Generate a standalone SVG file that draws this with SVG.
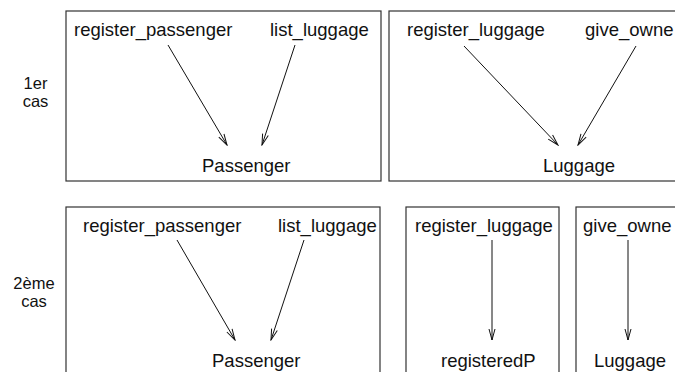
<svg xmlns="http://www.w3.org/2000/svg" width="675" height="372" viewBox="0 0 675 372">
<defs>
<style>
.box{fill:none;stroke:#333;stroke-width:1.2}
.t{font-family:"Liberation Sans",Arial,sans-serif;font-size:18.5px;fill:#111}
.s{font-family:"Liberation Sans",Arial,sans-serif;font-size:16.5px;fill:#111;text-anchor:middle}
.c{stroke:#111;stroke-width:1;fill:none;marker-end:url(#ah)}
</style>
<marker id="ah" markerUnits="userSpaceOnUse" viewBox="-12 -4 13 8" refX="0" refY="0" markerWidth="13" markerHeight="8" orient="auto">
<path d="M-11,-3 L0,0 L-11,3" fill="none" stroke="#111" stroke-width="1"/>
</marker>
</defs>
<rect width="675" height="372" fill="#fff"/>
<g id="label1">
<text class="s" x="35.5" y="89">1er</text>
<text class="s" x="35.5" y="107">cas</text>
</g>
<g id="label2">
<text class="s" x="34" y="289">2ème</text>
<text class="s" x="34" y="307">cas</text>
</g>
<g id="box1">
<rect class="box" x="66" y="11" width="315" height="170"/>
<text class="t" x="74" y="36">register_passenger</text>
<text class="t" x="270" y="36">list_luggage</text>
<text class="t" x="202" y="172">Passenger</text>
</g>
<g id="box2">
<rect class="box" x="389" y="11" width="320" height="170"/>
<text class="t" x="407" y="36">register_luggage</text>
<text class="t" x="585" y="36">give_owne</text>
<text class="t" x="543" y="172">Luggage</text>
</g>
<g id="box3">
<rect class="box" x="66" y="207" width="314" height="190"/>
<text class="t" x="83" y="232">register_passenger</text>
<text class="t" x="278" y="232">list_luggage</text>
<text class="t" x="212" y="367">Passenger</text>
</g>
<g id="box4">
<rect class="box" x="406" y="207" width="153" height="190"/>
<text class="t" x="415" y="232">register_luggage</text>
<text class="t" x="441" y="367">registeredP</text>
</g>
<g id="box5">
<rect class="box" x="576" y="207" width="130" height="190"/>
<text class="t" x="583" y="232">give_owne</text>
<text class="t" x="594" y="367">Luggage</text>
</g>
<g id="connectors">
<line class="c" x1="168" y1="45" x2="227" y2="145"/>
<line class="c" x1="295" y1="45" x2="262" y2="145"/>
<line class="c" x1="464" y1="46" x2="558" y2="145"/>
<line class="c" x1="636" y1="46" x2="578" y2="145"/>
<line class="c" x1="177" y1="240" x2="235" y2="340"/>
<line class="c" x1="304" y1="240" x2="271" y2="340"/>
<line class="c" x1="492" y1="240" x2="492" y2="340"/>
<line class="c" x1="628" y1="240" x2="628" y2="340"/>
</g>
</svg>
